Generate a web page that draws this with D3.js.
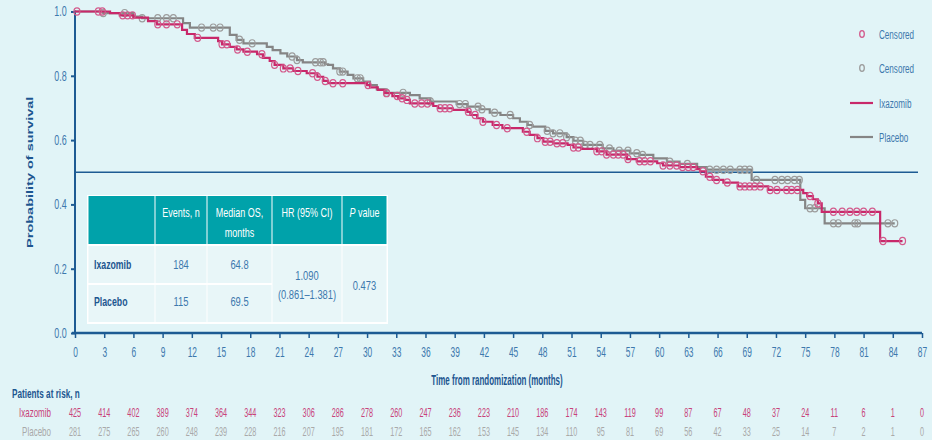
<!DOCTYPE html>
<html>
<head>
<meta charset="utf-8">
<script src="https://cdn.jsdelivr.net/npm/d3@7"></script>
<style>
  html, body { margin: 0; padding: 0; background: #e1f4f7; }
  svg { display: block; }
  text { font-family: "Liberation Sans", Arial, sans-serif; }
</style>
</head>
<body>
<svg id="chart" width="932" height="440"></svg>
<script>
// ---- Kaplan–Meier estimates: [month, survival after the drop] ----
const ixazomibSteps = [
  [0, 1.0], [3.6, 0.995], [4.6, 0.988], [6.0, 0.981], [7.5, 0.970], [8.4, 0.960],
  [11.0, 0.943], [11.5, 0.930], [12.3, 0.918], [14.7, 0.908], [15.1, 0.898],
  [15.9, 0.890], [16.6, 0.882], [17.3, 0.875], [18.7, 0.867], [19.3, 0.856],
  [20.0, 0.846], [20.5, 0.834], [21.4, 0.823], [22.4, 0.815], [23.8, 0.808],
  [24.9, 0.797], [25.5, 0.784], [26.0, 0.777], [30.0, 0.771], [30.3, 0.764],
  [31.1, 0.756], [31.8, 0.746], [32.6, 0.737], [33.2, 0.730], [33.9, 0.725],
  [34.4, 0.714], [36.8, 0.706], [37.3, 0.699], [38.8, 0.694], [40.3, 0.688],
  [40.6, 0.678], [41.3, 0.668], [41.9, 0.657], [42.9, 0.647], [43.9, 0.637],
  [46.0, 0.626], [46.7, 0.616], [47.5, 0.606], [48.1, 0.595], [49.1, 0.590],
  [50.6, 0.585], [51.2, 0.577], [52.0, 0.573], [53.6, 0.565], [54.6, 0.555],
  [56.7, 0.541], [57.7, 0.534], [59.8, 0.528], [60.4, 0.521], [62.1, 0.516],
  [63.9, 0.510], [64.2, 0.503], [64.8, 0.486], [65.5, 0.476], [66.6, 0.468],
  [68.1, 0.456], [71.2, 0.445], [74.8, 0.435], [75.2, 0.426], [75.8, 0.416],
  [76.3, 0.403], [76.7, 0.377], [82.7, 0.286]
];
const ixazomibLastFollowUp = 85.0;
const ixazomibCensored = [
  0.2, 2.4, 2.8, 4.9, 5.4, 5.9, 8.5, 9.4, 10.5, 12.6, 15.1, 15.6, 16.7, 17.7,
  19.2, 20.5, 21.4, 22.1, 22.9, 24.4, 24.9, 25.7, 26.5, 27.5, 30.1, 32.0, 33.1,
  33.6, 34.1, 34.9, 35.6, 36.2, 37.5, 38.0, 38.5, 40.4, 41.1, 41.9, 43.3, 44.4,
  46.4, 47.5, 48.3, 48.8, 49.5, 50.1, 51.2, 51.7, 53.6, 54.1, 54.6, 55.3, 55.8,
  56.3, 56.8, 58.0, 58.5, 59.1, 60.4, 61.1, 61.8, 62.4, 63.0, 63.5, 64.5, 65.2,
  65.9, 67.0, 68.3, 68.8, 69.3, 69.8, 70.4, 71.4, 72.1, 73.1, 73.6, 74.2, 75.5,
  76.3, 77.9, 78.8, 79.6, 80.3, 81.0, 81.9, 83.0, 85.0
];

const placeboSteps = [
  [0, 1.0], [2.9, 0.995], [6.0, 0.984], [6.9, 0.979], [11.1, 0.964], [11.8, 0.950],
  [15.9, 0.927], [16.6, 0.912], [17.3, 0.901], [19.7, 0.890], [20.3, 0.880],
  [21.1, 0.870], [21.8, 0.860], [22.8, 0.849], [23.4, 0.842], [25.7, 0.836],
  [26.0, 0.834], [26.5, 0.823], [27.2, 0.813], [28.0, 0.803], [28.6, 0.792],
  [29.6, 0.782], [30.3, 0.771], [31.0, 0.758], [32.0, 0.747], [34.4, 0.740],
  [35.4, 0.730], [36.5, 0.720], [39.2, 0.712], [40.3, 0.704], [41.6, 0.696],
  [42.6, 0.685], [43.7, 0.678], [45.0, 0.668], [45.7, 0.657], [46.5, 0.647],
  [47.0, 0.642], [48.3, 0.629], [49.1, 0.621], [50.5, 0.609], [51.2, 0.598],
  [52.2, 0.585], [54.2, 0.574], [55.3, 0.567], [57.0, 0.559], [58.0, 0.554],
  [59.4, 0.543], [60.8, 0.533], [62.1, 0.526], [63.9, 0.516], [64.9, 0.508],
  [69.5, 0.476], [74.5, 0.414], [75.0, 0.388], [77.0, 0.341]
];
const placeboLastFollowUp = 84.2;
const placeboCensored = [
  2.9, 5.1, 6.9, 8.5, 9.4, 10.1, 13.0, 14.2, 14.9, 16.9, 18.2, 22.3, 22.8, 24.7,
  25.2, 25.5, 27.2, 27.5, 29.0, 29.3, 32.0, 33.7, 36.5, 39.5, 40.1, 41.4, 41.8,
  43.1, 44.7, 46.7, 48.5, 49.1, 49.8, 50.5, 51.4, 51.9, 52.4, 52.9, 53.9, 54.9,
  55.9, 56.8, 57.7, 58.3, 61.1, 62.9, 65.2, 65.9, 66.6, 67.3, 68.3, 68.8, 69.3,
  70.0, 71.9, 72.6, 73.2, 73.9, 74.4, 75.5, 76.0, 77.9, 78.4, 80.1, 80.4, 83.5, 84.2
];

// ---- Axes and risk table ----
const monthTicks = [0, 3, 6, 9, 12, 15, 18, 21, 24, 27, 30, 33, 36, 39, 42, 45, 48, 51, 54, 57, 60, 63, 66, 69, 72, 75, 78, 81, 84, 87];
const survivalTicks = [0.0, 0.2, 0.4, 0.6, 0.8, 1.0];
const ixazomibAtRisk = [425, 414, 402, 389, 374, 364, 344, 323, 306, 286, 278, 260, 247, 236, 223, 210, 186, 174, 143, 119, 99, 87, 67, 48, 37, 24, 11, 6, 1, 0];
const placeboAtRisk = [281, 275, 265, 260, 248, 239, 228, 216, 207, 195, 181, 172, 165, 162, 153, 145, 134, 110, 95, 81, 69, 56, 42, 33, 25, 14, 7, 2, 1, 0];

// ---- Summary table ----
const tableHeader = [[], ["Events, n"], ["Median OS,", "months"], ["HR (95% CI)"], ["P value"]];
const tableArms = ["Ixazomib", "Placebo"];
const tableEvents = ["184", "115"];
const tableMedianOS = ["64.8", "69.5"];
const tableHR = ["1.090", "(0.861\u20131.381)"];
const tablePValue = "0.473";

const legendLabels = ["Censored", "Censored", "Ixazomib", "Placebo"];

const colors = {
  ixa: "#c8286a", ixaMark: "#d35a8c",
  pbo: "#858585", pboMark: "#9c9c9c",
  axis: "#1d5b93", tick: "#3d78ad", title: "#1d5690",
  teal: "#00a2aa", cell: "#e8f6f8"
};

const svg = d3.select("#chart");
const x = d3.scaleLinear().domain([0, 87]).range([75, 922]);
const y = d3.scaleLinear().domain([0, 1]).range([333, 11.5]);

// condensed text: glyphs squeezed horizontally around the anchor point
function label(parent, px, py, str, o = {}) {
  const g = parent.append("g")
    .attr("transform", `translate(${px},${py}) scale(${o.sx || 0.6},1)`);
  const t = g.append("text")
    .attr("text-anchor", o.anchor || "start")
    .attr("font-size", o.size || 14)
    .attr("font-weight", o.weight || "normal")
    .attr("fill", o.fill || colors.tick);
  if (str !== null) t.text(str);
  return t;
}

// y axis
const yAxis = svg.append("g").attr("transform", "translate(75,0)")
  .call(d3.axisLeft(y).tickValues(survivalTicks).tickFormat(d3.format(".1f")).tickSize(4));
yAxis.select(".domain").attr("stroke", colors.axis).attr("stroke-width", 2)
  .attr("d", `M0,${y(1) - 1}V${y(0)}`);
yAxis.selectAll(".tick line").attr("stroke", colors.axis).attr("stroke-width", 2);
yAxis.selectAll(".tick text").attr("fill", colors.tick).attr("font-size", 14)
  .attr("font-family", "'Liberation Sans', Arial, sans-serif")
  .attr("x", -13).attr("transform", "scale(0.64,1)");

// x axis
const xAxis = svg.append("g").attr("transform", `translate(0,${y(0)})`)
  .call(d3.axisBottom(x).tickValues(monthTicks).tickSize(5).tickPadding(9));
xAxis.select(".domain").attr("stroke", colors.axis).attr("stroke-width", 2.5)
  .attr("d", `M${x(0) - 3},0H${x(87)}`);
xAxis.selectAll(".tick line").attr("stroke", colors.axis).attr("stroke-width", 1.5);
xAxis.selectAll(".tick text").attr("fill", colors.tick).attr("font-size", 14)
  .attr("font-family", "'Liberation Sans', Arial, sans-serif")
  .attr("transform", "scale(0.6,1)");

// median reference line at 50%
svg.append("line")
  .attr("x1", x(0)).attr("x2", x(87) - 4)
  .attr("y1", y(0.5)).attr("y2", y(0.5))
  .attr("stroke", colors.axis).attr("stroke-width", 1.6);

// axis titles
svg.append("g")
  .attr("transform", `translate(33,${y(0.5)}) scale(0.62,1) rotate(-90)`)
  .append("text")
  .attr("text-anchor", "middle")
  .attr("font-weight", "bold").attr("font-size", 14.5)
  .attr("fill", colors.title)
  .text("Probability of survival");

label(svg, 497, 385, "Time from randomization (months)",
  { anchor: "middle", weight: "bold", size: 14, sx: 0.57, fill: colors.title });

// KM curves
const stepLine = d3.line().x(d => x(d[0])).y(d => y(d[1])).curve(d3.curveStepAfter);
function survivalAt(steps, t) {
  const i = d3.bisector(d => d[0]).right(steps, t) - 1;
  return steps[Math.max(0, i)][1];
}
function drawArm(steps, lastT, censored, lineColor, markColor) {
  const pts = steps.concat([[lastT, steps[steps.length - 1][1]]]);
  svg.append("path").datum(pts)
    .attr("d", stepLine)
    .attr("fill", "none").attr("stroke", lineColor).attr("stroke-width", 2.2);
  svg.append("g").selectAll("ellipse").data(censored).join("ellipse")
    .attr("cx", d => x(d)).attr("cy", d => y(survivalAt(steps, d)))
    .attr("rx", 3).attr("ry", 3.6)
    .attr("fill", "none").attr("stroke", markColor).attr("stroke-width", 1.2);
}
drawArm(placeboSteps, placeboLastFollowUp, placeboCensored, colors.pbo, colors.pboMark);
drawArm(ixazomibSteps, ixazomibLastFollowUp, ixazomibCensored, colors.ixa, colors.ixaMark);

// legend
const legend = svg.append("g");
const legendY = [34, 68, 103, 137];
legend.append("ellipse").attr("cx", 862).attr("cy", legendY[0]).attr("rx", 2.3).attr("ry", 3.4)
  .attr("fill", "none").attr("stroke", colors.ixaMark).attr("stroke-width", 1.3);
legend.append("ellipse").attr("cx", 862).attr("cy", legendY[1]).attr("rx", 2.3).attr("ry", 3.4)
  .attr("fill", "none").attr("stroke", colors.pboMark).attr("stroke-width", 1.3);
legend.append("line").attr("x1", 850).attr("x2", 873).attr("y1", legendY[2]).attr("y2", legendY[2])
  .attr("stroke", colors.ixa).attr("stroke-width", 2.2);
legend.append("line").attr("x1", 850).attr("x2", 873).attr("y1", legendY[3]).attr("y2", legendY[3])
  .attr("stroke", colors.pbo).attr("stroke-width", 2.2);
legendLabels.forEach((d, i) => label(legend, 879, legendY[i] + 5, d, { size: 13.5, sx: 0.6 }));

// summary table
const colEdges = [88, 155, 207, 272, 342, 387];
const rowEdges = [196, 245, 284, 323];
const tbl = svg.append("g");
tbl.append("rect").attr("x", colEdges[0] - 1).attr("y", rowEdges[0] - 1)
  .attr("width", colEdges[5] - colEdges[0] + 2).attr("height", rowEdges[3] - rowEdges[0] + 2)
  .attr("fill", "#ffffff");
for (let c = 0; c < 5; c++) {
  tbl.append("rect")
    .attr("x", colEdges[c] + 0.5).attr("y", rowEdges[0])
    .attr("width", colEdges[c + 1] - colEdges[c] - 1).attr("height", rowEdges[1] - rowEdges[0] - 1)
    .attr("fill", colors.teal);
  if (c < 3) {
    for (let r = 1; r < 3; r++) {
      tbl.append("rect")
        .attr("x", colEdges[c] + 0.5).attr("y", rowEdges[r] + 1)
        .attr("width", colEdges[c + 1] - colEdges[c] - 1).attr("height", rowEdges[r + 1] - rowEdges[r] - 2)
        .attr("fill", colors.cell);
    }
  } else {
    tbl.append("rect")
      .attr("x", colEdges[c] + 0.5).attr("y", rowEdges[1] + 1)
      .attr("width", colEdges[c + 1] - colEdges[c] - 1).attr("height", rowEdges[3] - rowEdges[1] - 2)
      .attr("fill", colors.cell);
  }
}
const colMid = c => (colEdges[c] + colEdges[c + 1]) / 2;
const tsx = 0.72;
// header labels
tableHeader.forEach((lines, c) => {
  lines.forEach((ln, i) => {
    const t = label(tbl, colMid(c), 217 + i * 20, null,
      { anchor: "middle", size: 12.5, sx: tsx, fill: "#ffffff" });
    if (ln === "P value") {
      t.append("tspan").attr("font-style", "italic").text("P");
      t.append("tspan").text(" value");
    } else {
      t.text(ln);
    }
  });
});
const rowBase = [269, 306];
tableArms.forEach((arm, r) => {
  label(tbl, 94, rowBase[r], arm, { size: 12.5, sx: 0.7, weight: "bold", fill: colors.title });
  label(tbl, colMid(1), rowBase[r], tableEvents[r], { anchor: "middle", size: 13, sx: tsx });
  label(tbl, colMid(2), rowBase[r], tableMedianOS[r], { anchor: "middle", size: 13, sx: tsx });
});
tableHR.forEach((ln, i) => {
  label(tbl, colMid(3), 280 + i * 19, ln, { anchor: "middle", size: 13, sx: tsx });
});
label(tbl, colMid(4), 290, tablePValue, { anchor: "middle", size: 13, sx: tsx });

// patients at risk
label(svg, 12, 398, "Patients at risk, n", { size: 13, sx: 0.63, weight: "bold", fill: colors.title });
const riskRows = [
  { label: "Ixazomib", values: ixazomibAtRisk, color: "#c8427a", y: 417 },
  { label: "Placebo", values: placeboAtRisk, color: "#a9a9a9", y: 436 }
];
riskRows.forEach(row => {
  label(svg, 51, row.y, row.label, { anchor: "end", size: 12.5, sx: 0.64, fill: row.color });
  const g = svg.append("g");
  row.values.forEach((v, i) => {
    label(g, x(monthTicks[i]), row.y, String(v), { anchor: "middle", size: 12.5, sx: 0.58, fill: row.color });
  });
});
</script>
</body>
</html>
